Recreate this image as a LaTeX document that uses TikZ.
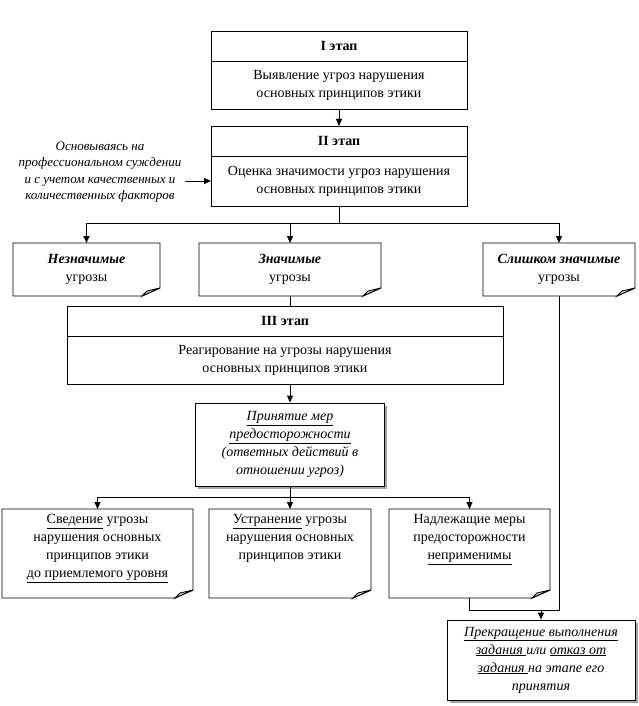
\documentclass[tikz,border=0pt]{standalone}
\usepackage{fontspec}
\setmainfont{Liberation Serif}
\usetikzlibrary{positioning, calc, arrows.meta, shadows}

\newcommand{\mainsize}{\fontsize{14}{18}\selectfont}
\newcommand{\toptext}[2]{\parbox[c][78pt][t]{#1}{\centering #2}}
\newcommand{\foldnote}[1]{%
  \draw[link] (#1.north west) -- (#1.north east) -- ([yshift=8pt]#1.south east)
    -- ([xshift=-18pt]#1.south east) -- (#1.south west) -- cycle;
  \draw[link, fill=gray!35] ([yshift=8pt]#1.south east) -- ([xshift=-18pt]#1.south east)
    -- ([xshift=-13pt, yshift=5pt]#1.south east) -- cycle;
}

\begin{document}
\begin{tikzpicture}[
    x=1pt, y=-1pt,
    font=\mainsize,
    link/.style={line width=0.9pt},
    stagehead/.style={draw, link, outer sep=0pt, minimum height=30pt, font=\mainsize\bfseries},
    stagebody/.style={draw, link, outer sep=0pt, minimum height=48pt, align=center},
    note/.style={outer sep=0pt, inner sep=2pt, minimum height=53pt, align=center},
    action/.style={draw, link, fill=white, align=center, font=\mainsize\itshape,
        drop shadow={shadow xshift=2.5pt, shadow yshift=-2.5pt, fill=gray!70, opacity=1}},
    arr/.style={link, -{Triangle[length=7pt, width=6pt]}},
]
\useasboundingbox (0,0) rectangle (638,706);

% Stage I
\node[stagehead, minimum width=256pt] (head1) at (339,46) {I этап};
\node[stagebody, minimum width=256pt, below=0pt of head1] (body1) {Выявление угроз нарушения\\основных принципов этики};

% Stage II
\node[stagehead, minimum width=256pt] (head2) at (339,141) {II этап};
\node[stagebody, minimum width=256pt, minimum height=50pt, below=0pt of head2] (body2) {Оценка значимости угроз нарушения\\основных принципов этики};
\draw[arr] (body1.south) -- (head2.north);

% Basis of assessment
\node[font=\fontsize{13}{16.5}\selectfont\itshape, align=center] (basis) at (100,172)
    {Основываясь на\\профессиональном суждении\\и с учетом качественных и\\количественных факторов};
\draw[arr] (basis.east |- body2.west) -- (body2.west);

% Threat levels
\node[note, minimum width=147pt] (minor) at (86.5,269.5) {\textbf{\textit{Незначимые}}\\угрозы};
\node[note, minimum width=182pt] (major) at (290,269.5) {\textbf{\textit{Значимые}}\\угрозы};
\node[note, minimum width=152pt] (severe) at (559,269.5) {\textbf{\textit{Слишком значимые}}\\угрозы};
\coordinate (split1) at ($(body2.south)+(0,17)$);
\draw[link] (body2.south) -- (split1);
\foreach \t in {minor, major, severe}
    \draw[arr] (split1) -| (\t.north);

% Stage III
\node[stagehead, minimum width=436pt] (head3) at (285,321) {III этап};
\node[stagebody, minimum width=436pt, below=0pt of head3] (body3) {Реагирование на угрозы нарушения\\основных принципов этики};
\draw[link] (major.south) -- (major.south |- head3.north);

% Precautions
\node[action, minimum width=189pt, minimum height=83pt] (measures) at (290,444.5)
    {\underline{Принятие мер}\\\underline{предосторожности}\\(ответных действий в\\отношении угроз)};
\draw[arr] (body3.south -| measures.north) -- (measures.north);

% Responses
\node[note, minimum width=191pt, minimum height=89pt] (reduce) at (97.5,553.5)
    {\toptext{185pt}{\underline{Сведение} угрозы\\нарушения основных\\принципов этики\\\underline{до приемлемого уровня}}};
\node[note, minimum width=162pt, minimum height=89pt] (remove) at (290,553.5)
    {\toptext{158pt}{\underline{Устранение} угрозы\\нарушения основных\\принципов этики}};
\node[note, minimum width=161pt, minimum height=89pt] (inapt) at (469.5,553.5)
    {\toptext{155pt}{Надлежащие меры\\предосторожности\\\underline{неприменимы}}};
\coordinate (split2) at ($(measures.south)+(0,11)$);
\draw[link] (measures.south) -- (split2);
\foreach \t in {reduce, remove, inapt}
    \draw[arr] (split2) -| (\t.north);

% Folded corners
\foreach \n in {minor, major, severe, reduce, remove, inapt}
    {\foldnote{\n}}

% Refusal
\node[action, minimum width=188pt, minimum height=80pt] (stop) at (541,660)
    {\underline{Прекращение выполнения}\\\underline{задания }или \underline{отказ от}\\\underline{задания }на этапе его\\принятия};
\coordinate (join) at ($(inapt.south)+(0,12)$);
\draw[link] (inapt.south) -- (join) -- (join -| severe.south) -- (severe.south);
\draw[arr] (join -| stop.north) -- (stop.north);

\end{tikzpicture}
\end{document}
